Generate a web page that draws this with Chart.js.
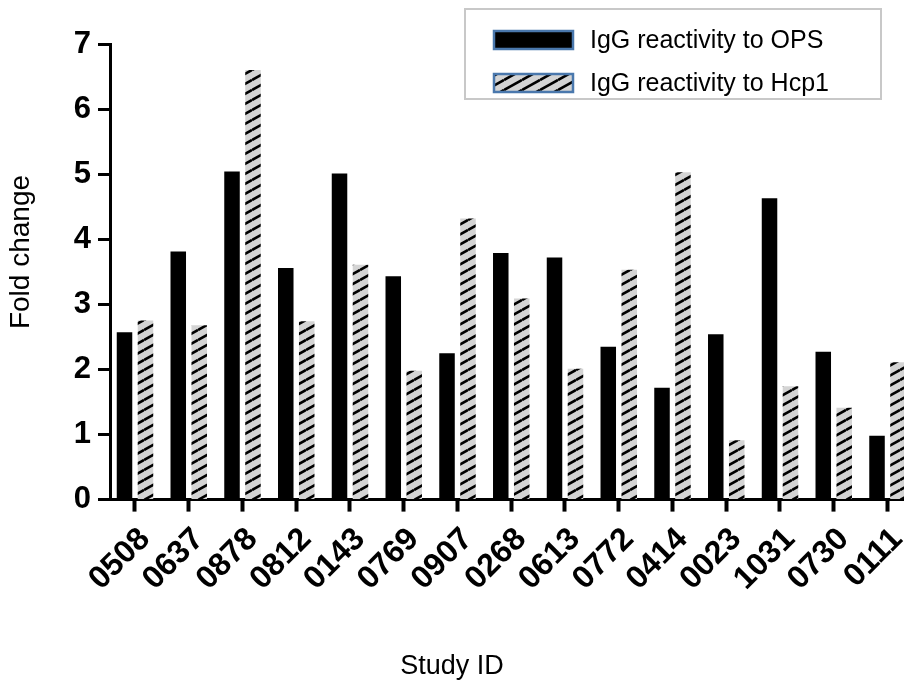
<!DOCTYPE html>
<html>
<head>
<meta charset="utf-8">
<script src="https://cdn.jsdelivr.net/npm/chart.js@4.4.1/dist/chart.umd.min.js"></script>
<style>
  html, body { margin: 0; padding: 0; background: #fff; overflow: hidden; }
</style>
</head>
<body>
<canvas id="myChart" width="904" height="686"></canvas>
<script>
var studyIds = ['0508', '0637', '0878', '0812', '0143', '0769', '0907', '0268',
                '0613', '0772', '0414', '0023', '1031', '0730', '0111'];
var opsValues  = [2.57, 3.81, 5.04, 3.56, 5.01, 3.43, 2.25, 3.79, 3.72, 2.35, 1.72, 2.54, 4.63, 2.27, 0.98];
var hcp1Values = [2.75, 2.68, 6.60, 2.74, 3.61, 1.98, 4.32, 3.09, 2.01, 3.53, 5.03, 0.91, 1.74, 1.41, 2.11];
var yTicks = [0, 1, 2, 3, 4, 5, 6, 7];

var FONT = '"Liberation Sans", Arial, sans-serif';

// grey fill with black "/" stripes
function makeHatch() {
  var c = document.createElement('canvas');
  c.width = 18; c.height = 10;
  var g = c.getContext('2d');
  g.fillStyle = '#d4d4d4';
  g.fillRect(0, 0, 18, 10);
  g.strokeStyle = '#000';
  g.lineWidth = 2.6;
  [-10, 0, 10].forEach(function(dy) {
    g.beginPath();
    g.moveTo(0, 10 + dy);
    g.lineTo(18, dy);
    g.stroke();
  });
  return g.createPattern(c, 'repeat');
}

function toPoints(values) {
  return values.map(function(v, i) { return { x: i, y: v }; });
}

// framed legend in the top right corner (two rows) and the y axis title
var boxLegend = {
  id: 'boxLegend',
  afterDraw: function(chart) {
    var ctx = chart.ctx;
    ctx.save();
    ctx.fillStyle = '#fff';
    ctx.fillRect(465, 9, 416, 90);
    ctx.strokeStyle = '#c8c8c8';
    ctx.lineWidth = 2;
    ctx.strokeRect(465, 9, 416, 90);
    chart.data.datasets.forEach(function(ds, i) {
      var y = 31 + i * 43;
      ctx.fillStyle = ds.backgroundColor;
      ctx.fillRect(494, y, 79, 18);
      ctx.strokeStyle = '#4a78ad';
      ctx.lineWidth = 2.5;
      ctx.strokeRect(494, y, 79, 18);
      ctx.fillStyle = '#000';
      ctx.font = '25px ' + FONT;
      ctx.textBaseline = 'middle';
      ctx.fillText(ds.label, 590, y + 10);
    });

    ctx.translate(21, 252);
    ctx.rotate(-Math.PI / 2);
    ctx.textAlign = 'center';
    ctx.textBaseline = 'middle';
    ctx.font = '28px ' + FONT;
    ctx.fillStyle = '#000';
    ctx.fillText('Fold change', 0, 0);
    ctx.restore();
  }
};

var ctx = document.getElementById('myChart').getContext('2d');
var chart = new Chart(ctx, {
  type: 'bar',
  data: {
    datasets: [{
      label: 'IgG reactivity to OPS',
      data: toPoints(opsValues),
      backgroundColor: '#000',
      borderWidth: 0,
      categoryPercentage: 0.78,
      barPercentage: 0.74
    }, {
      label: 'IgG reactivity to Hcp1',
      data: toPoints(hcp1Values),
      backgroundColor: makeHatch(),
      borderWidth: 0,
      categoryPercentage: 0.78,
      barPercentage: 0.74
    }]
  },
  options: {
    responsive: false,
    animation: false,
    layout: { padding: { top: 44, left: 0, right: 0, bottom: 0 } },
    plugins: {
      legend: { display: false },
      tooltip: { enabled: false },
      title: {
        display: true,
        position: 'bottom',
        text: 'Study ID',
        color: '#000',
        font: { family: FONT, size: 27, weight: 'normal' },
        padding: { top: 2, bottom: 3 }
      }
    },
    scales: {
      x: {
        type: 'linear',
        min: -0.465,
        max: 14.307,
        offset: false,
        afterBuildTicks: function(axis) {
          axis.ticks = studyIds.map(function(_, i) { return { value: i }; });
        },
        afterFit: function(axis) {
          axis.height = 149;
          axis.paddingLeft = 0;
          axis.paddingRight = 0;
        },
        ticks: {
          autoSkip: false,
          minRotation: 45,
          maxRotation: 45,
          padding: 9,
          labelOffset: 10,
          color: '#000',
          font: { family: FONT, size: 32, weight: 'bold' },
          callback: function(v) { return studyIds[v]; }
        },
        grid: {
          display: true,
          offset: false,
          drawOnChartArea: false,
          drawTicks: true,
          tickLength: 12,
          tickWidth: 4,
          tickColor: '#000'
        },
        border: { display: true, color: '#000', width: 3 }
      },
      y: {
        min: 0,
        max: 7,
        afterBuildTicks: function(axis) {
          axis.ticks = yTicks.map(function(v) { return { value: v }; });
        },
        afterFit: function(axis) { axis.width = 110; },
        ticks: {
          padding: 7,
          color: '#000',
          font: { family: FONT, size: 31, weight: 'bold' }
        },
        grid: {
          display: true,
          drawOnChartArea: false,
          tickLength: 12,
          tickWidth: 3,
          tickColor: '#000'
        },
        border: { display: true, color: '#000', width: 3 }
      }
    }
  },
  plugins: [boxLegend]
});
</script>
</body>
</html>
